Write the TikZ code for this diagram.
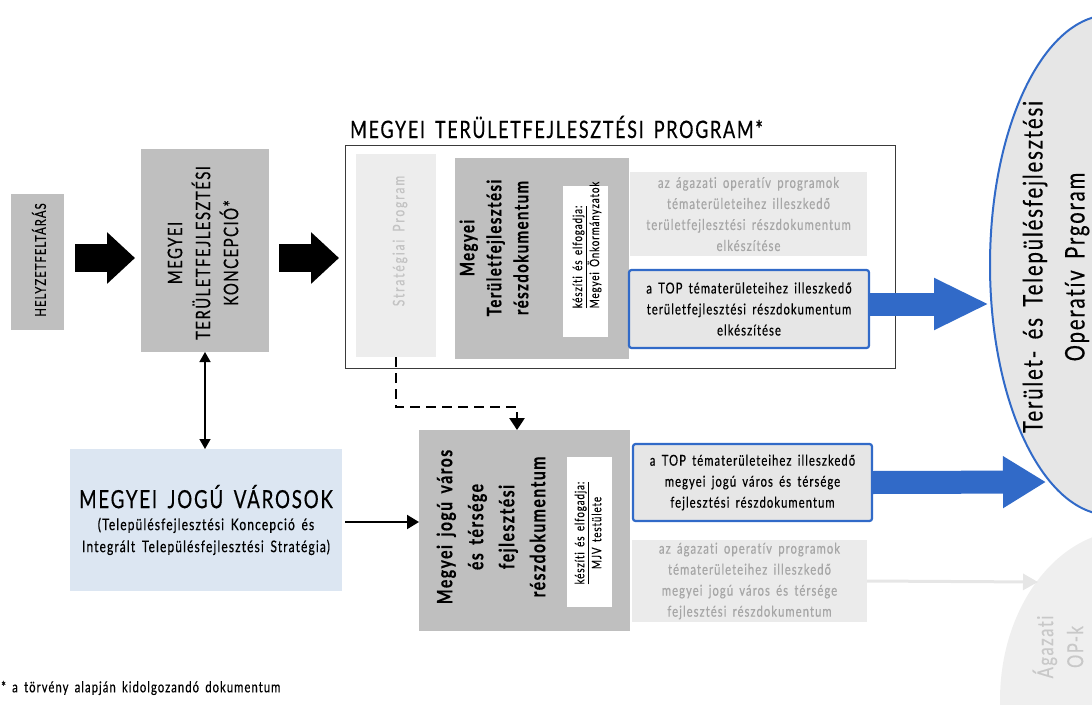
\documentclass[tikz,border=0pt]{standalone}
\usepackage{fontspec}
\setmainfont{Lato}[FakeStretch=0.75,LetterSpace=7,WordSpace=1.6,FakeBold=0.4,Ligatures=NoCommon]
\usetikzlibrary{arrows.meta,shapes.geometric}
\definecolor{boxgray}{HTML}{BFBFBF}
\definecolor{lightbox}{HTML}{EBEBEB}
\definecolor{lighttext}{HTML}{A6A6A6}
\definecolor{strattext}{HTML}{C3C3C3}
\definecolor{stratfill}{HTML}{EDEDED}
\definecolor{blueC}{HTML}{316AC8}
\definecolor{bluefill}{HTML}{E6E6E6}
\definecolor{mjvfill}{HTML}{DCE6F2}
\definecolor{agfill}{HTML}{EFEFEF}
\definecolor{agtext}{HTML}{C8C8C8}
\definecolor{framec}{HTML}{3A3A3A}
\definecolor{arrowlight}{HTML}{E6E6E6}
\newcommand\fs[2]{\fontsize{#1}{#2}\selectfont}
\begin{document}
\begin{tikzpicture}[x=1pt,y=-1pt,
  rect/.style 2 args={minimum width=#1pt, minimum height=#2pt, inner sep=0pt, outer sep=0pt},
  vtext/.style={rotate=90, align=center, inner sep=0pt},
  bigblack/.style={line width=28pt, -{Triangle[length=28pt,width=50pt]}},
  thinarrow/.style={-{Triangle[length=12pt,width=14pt]}},
  bluebox/.style={draw=blueC, line width=2.2pt, rounded corners=2.5pt, fill=bluefill, align=center, font=\fs{15}{21}},
  lightboxst/.style={fill=lightbox, align=center, text=lighttext, font=\fs{15}{21}}
]
\useasboundingbox (0,0) rectangle (1092,704);

% ellipses (background)
\node[ellipse, fill=agfill, minimum width=260pt, minimum height=340pt, inner sep=0pt] (agell) at (1130,700) {};
\node[vtext, text=agtext, font=\fs{22}{30}] (agt) at (1058,647) {Ágazati\\OP-k};
\node[ellipse, draw=blueC, line width=2pt, fill=bluefill, minimum width=240pt, minimum height=500pt, inner sep=0pt] (ell) at (1110,265) {};
\node[vtext, font=\fs{27}{42}] (ellt) at (1056,267) {Terület- és Településfejlesztési\\Operatív Prgoram};

% left boxes
\node[rect={53}{136}, fill=boxgray] (helyz) at (37.5,262) {};
\node[vtext, font=\fs{15}{16}] (helyzt) at (39,260) {HELYZETFELTÁRÁS};
\node[rect={128}{203}, fill=boxgray] (konc) at (205,250.5) {};
\node[vtext, font=\fs{20}{28}] (konct) at (203,253) {MEGYEI\\TERÜLETFEJLESZTÉSI\\KONCEPCIÓ*};

% program frame
\node[rect={550}{223}, draw=framec, line width=0.8pt] (frame) at (620,256.5) {};
\node[anchor=base west, inner sep=0pt, font=\fs{24}{28}] (title) at (350,138) {MEGYEI TERÜLETFEJLESZTÉSI PROGRAM*};
\node[rect={80}{203}, fill=stratfill] (strat) at (396,255.5) {};
\node[vtext, text=strattext, font=\fs{16}{18}\addfontfeature{LetterSpace=12}] (stratt) at (400,241) {Stratégiai Program};
\node[rect={174}{201}, fill=boxgray] (mtr) at (542,258.5) {};
\node[vtext, font=\bfseries\fs{20}{27}] (mtrt) at (494,248) {Megyei\\Területfejlesztési\\részdokumentum};
\node[rect={45}{151}, fill=white] (mtrin) at (585.5,261.5) {};
\node[vtext, align=left, font=\fs{13}{17}] (mtrint) at (587,245) {\underline{készíti és elfogadja:}\\Megyei Önkormányzatok};
\node[rect={237}{84}, lightboxst] (ag1) at (748.5,214) {az ágazati operatív programok\\tématerületeihez illeszkedő\\területfejlesztési részdokumentum\\elkészítése};
\node[rect={240}{78}, bluebox] (top1) at (749,309) {a TOP tématerületeihez illeszkedő\\területfejlesztési részdokumentum\\elkészítése};

% lower part
\node[rect={211}{201}, fill=boxgray] (mjd) at (524.5,530.5) {};
\node[vtext, font=\bfseries\fs{21}{31}] (mjdt) at (491,527) {Megyei jogú város\\és térsége\\fejlesztési\\részdokumentum};
\node[rect={45}{150}, fill=white] (mjdin) at (589.5,532) {};
\node[vtext, font=\fs{13}{17}] (mjdint) at (588,533) {\underline{készíti és elfogadja:}\\MJV testülete};
\node[rect={239}{77}, bluebox] (top2) at (752.5,482.5) {a TOP tématerületeihez illeszkedő\\megyei jogú város és térsége\\fejlesztési részdokumentum};
\node[rect={235}{82}, lightboxst] (ag2) at (749.5,581) {az ágazati operatív programok\\tématerületeihez illeszkedő\\megyei jogú város és térsége\\fejlesztési részdokumentum};
\node[rect={272}{142}, fill=mjvfill, align=center, font=\fs{16}{22}] (mjv) at (206,520) {{\fs{25}{30}MEGYEI JOGÚ VÁROSOK}\\(Településfejlesztési Koncepció és\\Integrált Településfejlesztési Stratégia)};

\node[anchor=west, inner sep=0pt, font=\fs{15}{17}] (foot) at (1,688) {* a törvény alapján kidolgozandó dokumentum};

% connectors
\coordinate (ya) at (0,258);
\coordinate (yb) at (0,304);
\coordinate (yc) at (0,522);
\coordinate (t2) at (1046,482);
\coordinate (t3) at (1038,582);
\coordinate (dk) at (517,407);
\draw[bigblack, shorten <=11pt, shorten >=6pt] (helyz.east |- ya) -- (konc.west |- ya);
\draw[bigblack, shorten <=10pt, shorten >=6pt] (konc.east |- ya) -- (frame.west |- ya);
\draw[blueC, line width=23pt, -{Triangle[length=55pt,width=48pt]}] (top1.east |- yb) -- (ell.west |- yb);
\draw[blueC, line width=23pt, -{Triangle[length=43pt,width=49pt]}] (top2.east) -- (t2);
\draw[arrowlight, line width=3pt, -{Triangle[length=15pt,width=16pt]}] (ag2.east) -- (t3);
\draw[line width=2.8pt, dash pattern=on 10pt off 6pt, -{Triangle[length=12pt,width=15pt]}] (strat.south) |- (dk) -- (mjd.north -| dk);
\draw[line width=1.5pt, {Triangle[length=10pt,width=11pt]}-{Triangle[length=10pt,width=11pt]}] (konc.south) -- (mjv.north -| konc.south);
\draw[line width=2pt, thinarrow, shorten <=3pt] (mjv.east |- yc) -- (mjd.west |- yc);
\end{tikzpicture}
\end{document}
